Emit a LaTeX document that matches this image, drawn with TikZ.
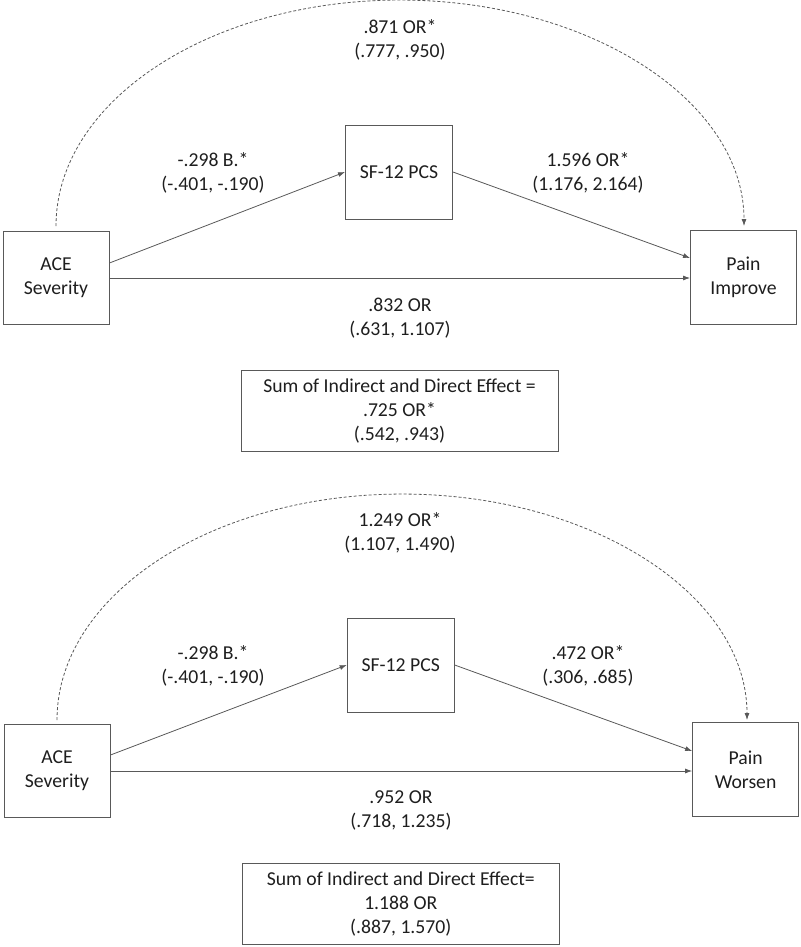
\documentclass[tikz,border=0pt]{standalone}
\usepackage{fontspec}
\setmainfont{Carlito}
\usetikzlibrary{arrows.meta,calc}
\definecolor{linegray}{HTML}{595959}
\definecolor{txt}{HTML}{1E1E1E}
\newcommand\dgfont{\fontsize{19.7}{24}\selectfont}
\begin{document}
\begin{tikzpicture}[x=1pt,y=-1pt,
  box/.style={draw=linegray,line width=0.9pt,minimum width=106pt,minimum height=93pt,inner sep=0pt,align=center,font=\dgfont,text=txt},
  sumbox/.style={draw=linegray,line width=0.9pt,minimum width=317pt,minimum height=81pt,inner sep=0pt,align=center,font=\dgfont,text=txt},
  lbl/.style={inner sep=0pt,align=center,font=\dgfont,text=txt},
  conn/.style={draw=linegray,line width=0.8pt,-{Latex[length=7pt,width=5pt]}},
  dconn/.style={draw=linegray,line width=0.8pt,dash pattern=on 3pt off 2pt,-{Latex[length=7pt,width=5pt]}}]
\useasboundingbox (0,0) rectangle (800,947);

% ---------- top diagram ----------
\node[box] (ace1) at (56,278) {ACE\\Severity};
\node[box,minimum width=107pt,minimum height=94pt] (sf1) at (399,172) {SF-12 PCS};
\node[box,minimum height=94pt] (pain1) at (743.5,277) {Pain\\Improve};
\node[sumbox] (sum1) at (399.5,411) {Sum of Indirect and Direct Effect =\\.725 OR*\\(.542, .943)};

\draw[conn] ([yshift=15pt]ace1.east) -- (sf1.west);
\draw[conn] (sf1.east) -- ([yshift=19pt]pain1.west);
\draw[conn] (ace1.east) -- (ace1.east -| pain1.west);
\draw[dconn] ([yshift=5pt]ace1.north) arc[start angle=180,end angle=360,x radius=344,y radius=226];

\node[lbl] (l1a) at (400,40) {.871 OR*\\(.777, .950)};
\node[lbl] (l1b) at (213,173) {-.298 B.*\\(-.401, -.190)};
\node[lbl] (l1c) at (588,173) {1.596 OR*\\(1.176, 2.164)};
\node[lbl] (l1d) at (400,318) {.832 OR\\(.631, 1.107)};

% ---------- bottom diagram ----------
\node[box] (ace2) at (57,771) {ACE\\Severity};
\node[box,minimum width=107pt,minimum height=94pt] (sf2) at (400.7,665) {SF-12 PCS};
\node[box,minimum height=94pt] (pain2) at (745.6,769.5) {Pain\\Worsen};
\node[sumbox] (sum2) at (400.8,904) {Sum of Indirect and Direct Effect=\\1.188 OR\\(.887, 1.570)};

\draw[conn] ([yshift=16pt]ace2.east) -- (sf2.west);
\draw[conn] (sf2.east) -- ([yshift=18.5pt]pain2.west);
\draw[conn] (ace2.east) -- (ace2.east -| pain2.west);
\draw[dconn] ([yshift=4pt]ace2.north) arc[start angle=180,end angle=360,x radius=345,y radius=226];

\node[lbl] (l2a) at (400,533) {1.249 OR*\\(1.107, 1.490)};
\node[lbl] (l2b) at (213,666) {-.298 B.*\\(-.401, -.190)};
\node[lbl] (l2c) at (588,666) {.472 OR*\\(.306, .685)};
\node[lbl] (l2d) at (401,810) {.952 OR\\(.718, 1.235)};
\end{tikzpicture}
\end{document}
